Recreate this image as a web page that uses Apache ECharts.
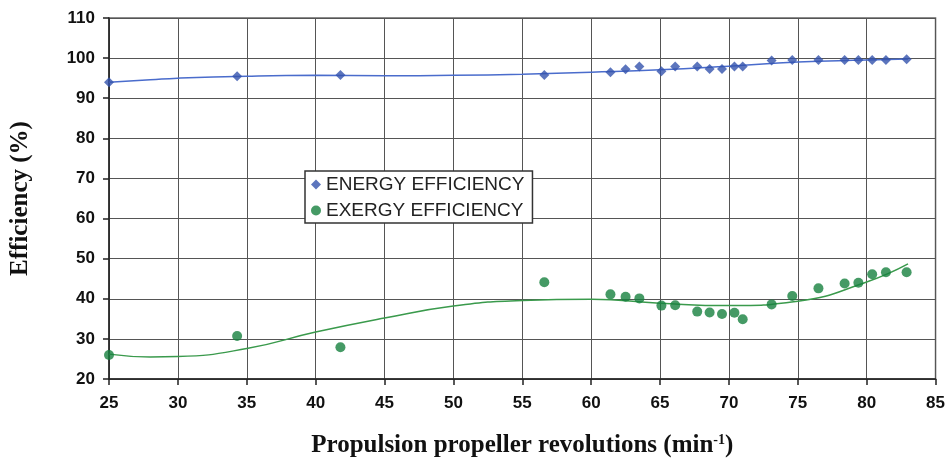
<!DOCTYPE html>
<html>
<head>
<meta charset="utf-8">
<title>Efficiency</title>
<script src="https://cdn.jsdelivr.net/npm/echarts@6/dist/echarts.min.js"></script>
</head>
<body style="margin:0;background:#fff">
<div id="main" style="width:948px;height:467px;"></div>
<script>
// propeller revolutions (min-1) for the measured points
var revs = [25, 34.3, 41.8, 56.6, 61.4, 62.5, 63.5, 65.1, 66.1, 67.7, 68.6, 69.5, 70.4, 71.0, 73.1, 74.6, 76.5, 78.4, 79.4, 80.4, 81.4, 82.9];
var energyEff = [94.0, 95.5, 95.8, 95.8, 96.5, 97.2, 97.9, 96.7, 97.9, 97.9, 97.3, 97.3, 97.9, 97.9, 99.4, 99.5, 99.5, 99.5, 99.5, 99.5, 99.5, 99.7];
var exergyEff = [26.0, 30.7, 27.9, 44.1, 41.1, 40.5, 40.1, 38.3, 38.4, 36.8, 36.6, 36.2, 36.5, 34.9, 38.6, 40.7, 42.6, 43.8, 44.0, 46.1, 46.6, 46.6];

// trend lines
var trendX = [25, 28, 30, 35, 40, 45, 50, 55, 60, 65, 70, 75, 80, 83];
var energyTrend = [94.0, 94.6, 95.0, 95.5, 95.7, 95.6, 95.7, 96.0, 96.5, 97.1, 98.0, 99.0, 99.5, 99.8];
var exergyTrend = [26.2, 25.5, 25.6, 27.6, 31.7, 35.2, 38.2, 39.6, 39.9, 38.9, 38.3, 39.4, 44.2, 48.7];

function pairs(xs, ys) {
    return xs.map(function (x, i) { return [x, ys[i]]; });
}

var blue = '#3352ad';
var green = '#17813f';

var chart = echarts.init(document.getElementById('main'));
chart.setOption({
    animation: false,
    backgroundColor: '#fff',
    grid: { left: 108, right: 12, top: 18, bottom: 88, show: true, borderColor: '#666', borderWidth: 1.5 },
    legend: {
        orient: 'vertical',
        left: 305, top: 171,
        padding: [4, 8, 3, 6],
        itemGap: 7,
        itemWidth: 10, itemHeight: 10,
        backgroundColor: '#fff',
        borderColor: '#333', borderWidth: 1.5,
        textStyle: { fontFamily: 'Liberation Sans', fontSize: 19, color: '#222' },
        data: ['ENERGY EFFICIENCY', 'EXERGY EFFICIENCY']
    },
    xAxis: {
        type: 'value', min: 25, max: 85, interval: 5,
        name: 'Propulsion propeller revolutions (min{sup|-1})',
        nameLocation: 'middle', nameGap: 54,
        nameTextStyle: {
            fontFamily: 'Liberation Serif', fontWeight: 'bold', fontSize: 25, color: '#111',
            rich: { sup: { fontFamily: 'Liberation Serif', fontWeight: 'bold', fontSize: 14, verticalAlign: 'top', padding: [0, 0, 12, 0], color: '#111' } }
        },
        axisLine: { lineStyle: { color: '#222', width: 1.5 } },
        axisTick: { length: 6, lineStyle: { color: '#222', width: 1.5 } },
        axisLabel: { margin: 16, fontFamily: 'Liberation Sans', fontWeight: 'bold', fontSize: 17, color: '#111' },
        splitLine: { lineStyle: { color: '#555', width: 1 } }
    },
    yAxis: {
        type: 'value', min: 20, max: 110, interval: 10,
        name: 'Efficiency (%)',
        nameLocation: 'middle', nameGap: 76,
        nameTextStyle: { fontFamily: 'Liberation Serif', fontWeight: 'bold', fontSize: 25, color: '#111' },
        axisLine: { show: true, lineStyle: { color: '#222', width: 1.5 } },
        axisTick: { show: true, length: 6, lineStyle: { color: '#222', width: 1.5 } },
        axisLabel: { margin: 14, fontFamily: 'Liberation Sans', fontWeight: 'bold', fontSize: 17, color: '#111' },
        splitLine: { lineStyle: { color: '#555', width: 1 } }
    },
    series: [
        {
            name: 'ENERGY EFFICIENCY', type: 'scatter', symbol: 'diamond', symbolSize: 10,
            itemStyle: { color: blue }, data: pairs(revs, energyEff), z: 5
        },
        {
            name: 'EXERGY EFFICIENCY', type: 'scatter', symbol: 'circle', symbolSize: 10,
            itemStyle: { color: green }, data: pairs(revs, exergyEff), z: 5
        },
        {
            name: 'energy trend', type: 'line', smooth: 0.5, showSymbol: false, silent: true,
            lineStyle: { color: '#4a6ccc', width: 1.5 }, data: pairs(trendX, energyTrend)
        },
        {
            name: 'exergy trend', type: 'line', smooth: 0.5, showSymbol: false, silent: true,
            lineStyle: { color: '#3a9a4c', width: 1.5 }, data: pairs(trendX, exergyTrend)
        }
    ]
});
</script>
</body>
</html>
